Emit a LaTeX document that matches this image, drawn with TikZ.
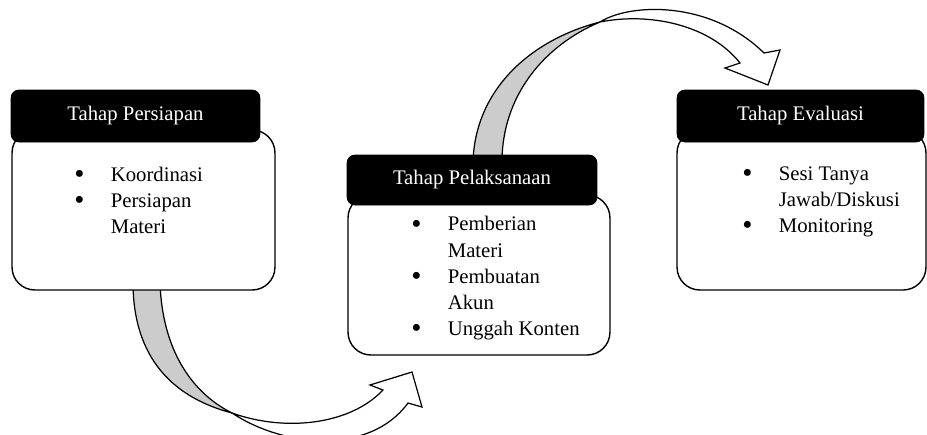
\documentclass[tikz,border=0pt]{standalone}
\usepackage{fontspec}
\setmainfont{Liberation Serif}
\newcommand{\bulitem}{\makebox[0.73cm][l]{\raisebox{-0.1em}{\scalebox{1.4}{\textbullet}}}}
\newcommand{\contitem}{\hspace*{0.73cm}}
\tikzset{
  headbox/.style={fill=black, draw=black, rounded corners=4.5pt, text=white,
    font=\fontsize{11.8}{14}\selectfont, inner sep=0pt},
  bodybox/.style={fill=white, draw=black, line width=0.8pt, rounded corners=13pt, inner sep=0pt},
  itemlist/.style={align=left, anchor=base west, inner sep=0pt,
    font=\fontsize{11.8}{14.8}\selectfont},
  twistpart/.style={fill=black!20, draw=black, line width=0.7pt},
  arrowbody/.style={fill=white, draw=black, line width=0.7pt, line join=miter}
}
\begin{document}
\begin{tikzpicture}[x=0.02cm,y=-0.02cm]
\useasboundingbox (0,0) rectangle (927,434);
\begin{scope}
\clip (0,0) rectangle (927,434);
% arrow from Persiapan to Pelaksanaan
\draw[twistpart] (133,282) .. controls (133,360) and (175,398) .. (232,413)
  .. controls (192,393) and (162,350) .. (160,282) -- cycle;
\draw[arrowbody] (232,413) .. controls (285,448) and (370,455) .. (408,403)
  -- (422,407) -- (412,372) -- (370,385) -- (383,390)
  .. controls (350,425) and (285,432) .. (232,413) -- cycle;
% arrow from Pelaksanaan to Evaluasi
\draw[twistpart] (473,162) .. controls (475,90) and (530,40) .. (600,22)
  .. controls (545,45) and (502,95) .. (502,162) -- cycle;
\draw[arrowbody] (600,22) .. controls (630,3) and (710,0) .. (764,53)
  -- (780,50) -- (768,85) -- (725,68) -- (740,63)
  .. controls (710,25) and (650,12) .. (600,22) -- cycle;
\end{scope}
% Tahap Persiapan
\node[bodybox, minimum width=5.26cm, minimum height=3.2cm] (prep) at (143.5,210) {};
\node[headbox, minimum width=4.98cm, minimum height=1.04cm] (prephead) at (135.5,116) {Tahap Persiapan};
\node[itemlist] (prepitems) at (74,233) {\bulitem Koordinasi\\\bulitem Persiapan\\\contitem Materi};
% Tahap Pelaksanaan
\node[bodybox, minimum width=5.24cm, minimum height=3.2cm] (exec) at (479,275) {};
\node[headbox, minimum width=5.0cm, minimum height=1.0cm] (exechead) at (472,180) {Tahap Pelaksanaan};
\node[itemlist] (execitems) at (411,335) {\bulitem Pemberian\\\contitem Materi\\\bulitem Pembuatan\\\contitem Akun\\\bulitem Unggah Konten};
% Tahap Evaluasi
\node[bodybox, minimum width=4.98cm, minimum height=3.2cm] (eval) at (801.5,210) {};
\node[headbox, minimum width=4.94cm, minimum height=1.04cm] (evalhead) at (800.5,116) {Tahap Evaluasi};
\node[itemlist] (evalitems) at (742,232) {\bulitem Sesi Tanya\\\contitem Jawab/Diskusi\\\bulitem Monitoring};
\end{tikzpicture}
\end{document}
